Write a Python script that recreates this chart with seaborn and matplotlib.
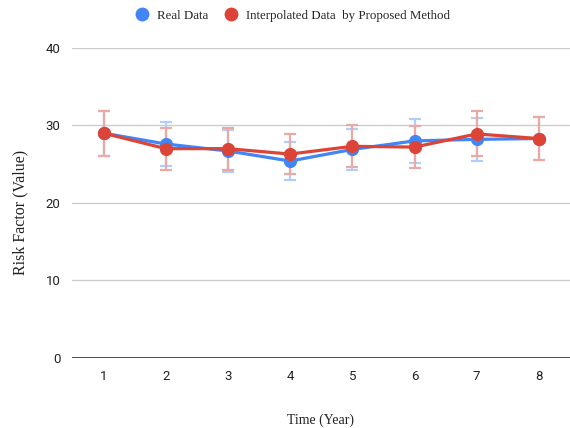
import numpy as np
import pandas as pd
import seaborn as sns
import matplotlib.pyplot as plt
from matplotlib.lines import Line2D

years = [1, 2, 3, 4, 5, 6, 7, 8]
real_vals = [29.0, 27.6, 26.7, 25.4, 26.9, 28.0, 28.2, 28.3]
interp_vals = [29.0, 27.0, 27.0, 26.3, 27.3, 27.2, 28.9, 28.3]
real_err = [2.9, 2.8, 2.7, 2.5, 2.7, 2.8, 2.8, 2.8]
interp_err = [2.9, 2.7, 2.7, 2.6, 2.7, 2.7, 2.9, 2.8]

series_names = ["Real Data", "Interpolated Data  by Proposed Method"]
colors = ["#4285F4", "#DB4437"]
err_colors = ["#b3cdf8", "#e9a9a5"]

df = pd.DataFrame({
    "year": years * 2,
    "value": real_vals + interp_vals,
    "err": real_err + interp_err,
    "series": [series_names[0]] * len(years) + [series_names[1]] * len(years),
})

sns.set_style("white")
plt.rcParams["font.family"] = ["Roboto", "DejaVu Sans"]
serif = ["Liberation Serif", "DejaVu Serif"]

fig = plt.figure(figsize=(5.7, 4.28), dpi=100)
ax = fig.add_axes([0.126, 0.164, 0.874, 0.724])

# error bars first, then lines/markers on top
for name, col in zip(series_names, err_colors):
    sub = df[df["series"] == name]
    ax.errorbar(sub["year"], sub["value"], yerr=sub["err"], fmt="none",
                ecolor=col, elinewidth=1.6, capsize=4.5, capthick=1.6,
                zorder=2)

sns.lineplot(data=df, x="year", y="value", hue="series", palette=colors,
             hue_order=series_names, marker="o", markersize=9.5,
             markeredgewidth=0, linewidth=2.3, legend=False, ax=ax, zorder=3)

ax.set_xlim(0.49, 8.5)
ax.set_ylim(0, 40)
ax.set_yticks([0, 10, 20, 30, 40])
ax.set_xticks(years)
ax.grid(axis="y", color="#cccccc", linewidth=1)
ax.axhline(0, color="#333333", linewidth=1.2, zorder=1)
for s in ax.spines.values():
    s.set_visible(False)
ax.tick_params(axis="both", length=0, labelsize=9.5, labelcolor="#222222")
ax.tick_params(axis="y", pad=8)
ax.tick_params(axis="x", pad=9)

ax.set_xlabel("Time (Year)", family=serif, fontsize=10, color="#222222",
              labelpad=22)
ax.set_ylabel("Risk Factor (Value)", family=serif, fontsize=11.5,
              color="#222222")
ax.yaxis.set_label_coords(-0.088, 0.47)

handles = [Line2D([], [], linestyle="none", marker="o", markersize=10,
                  markerfacecolor=c, markeredgewidth=0) for c in colors]
fig.legend(handles, series_names, loc="upper center", bbox_to_anchor=(0.508, 1.005),
           ncol=2, frameon=False, handletextpad=0.15, columnspacing=0.8,
           prop={"family": serif, "size": 9.3})

fig.savefig("out.png", dpi=100)
